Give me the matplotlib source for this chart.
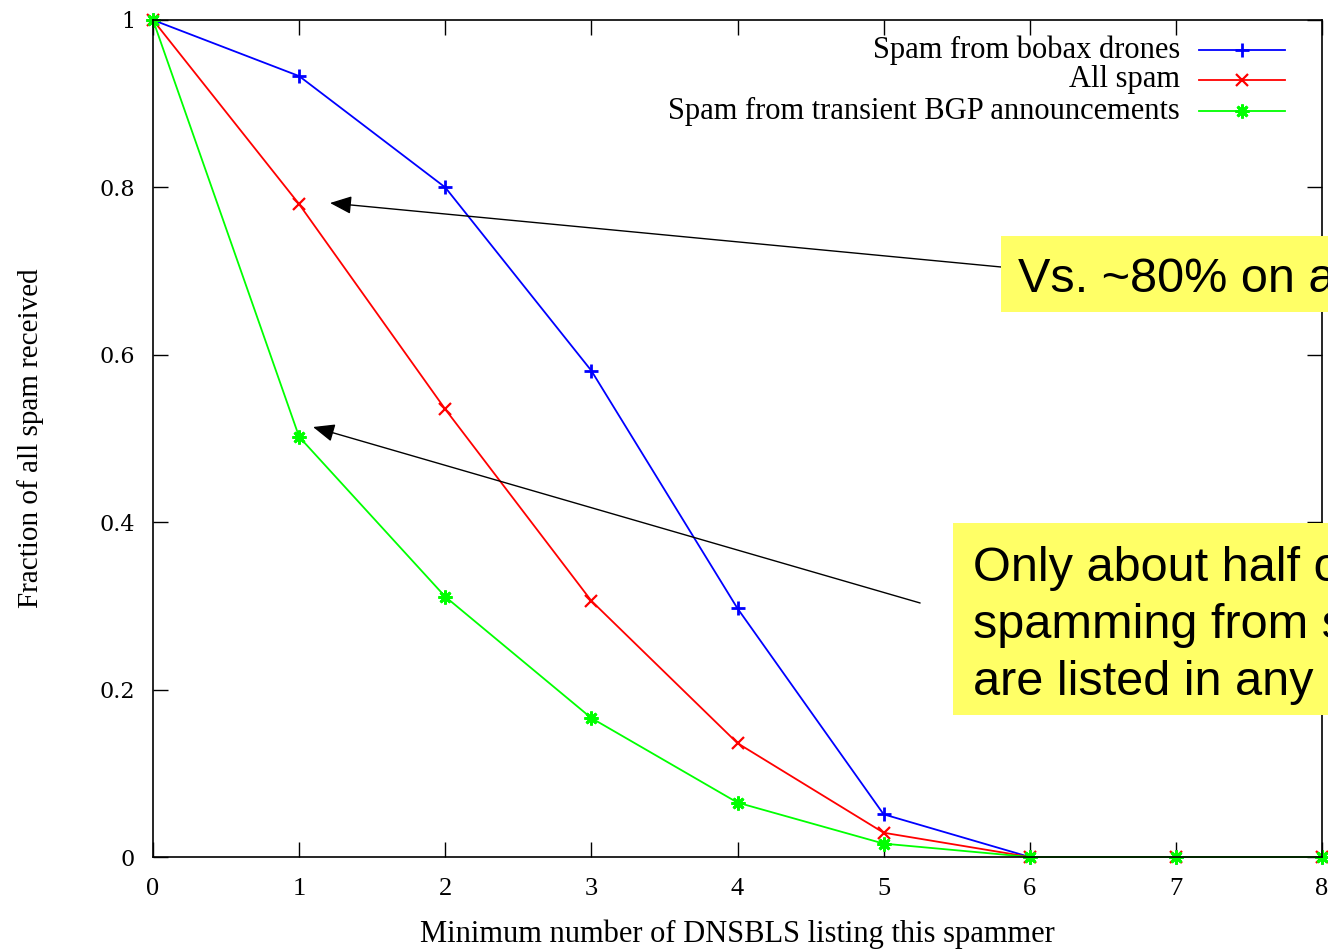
import matplotlib
matplotlib.use("Agg")
import matplotlib.pyplot as plt
from matplotlib.patches import Rectangle
from matplotlib.lines import Line2D

# ---- data ----
x_vals = [0, 1, 2, 3, 4, 5, 6, 7, 8]
bobax = [1.0, 0.933, 0.800, 0.581, 0.297, 0.051, 0.0, 0.0, 0.0]
all_spam = [1.0, 0.780, 0.535, 0.306, 0.136, 0.029, 0.0, 0.0, 0.0]
transient = [1.0, 0.502, 0.311, 0.166, 0.065, 0.016, 0.0, 0.0, 0.0]
labels = ["Spam from bobax drones", "All spam", "Spam from transient BGP announcements"]
xticks = list(range(0, 9))
yticks = [0, 0.2, 0.4, 0.6, 0.8, 1]
ytick_labels = ["0", "0.2", "0.4", "0.6", "0.8", "1"]
xlabel = "Minimum number of DNSBLS listing this spammer"
ylabel = "Fraction of all spam received"
note1 = ["Vs. ~80% on average"]
note2 = ["Only about half of the IPs", "spamming from short-lived BGP", "are listed in any blacklist"]

W, H = 1328, 949
fig = plt.figure(figsize=(W / 100, H / 100), dpi=100)
fig.patch.set_facecolor("white")


def fx(px):
    return px / W


def fy(py):
    return 1 - py / H


ax = fig.add_axes([fx(153), fy(857), fx(1322) - fx(153), fy(20) - fy(857)])
serif = "Liberation Serif"

star = (8, 2, 0)
styles = [
    dict(color="#0000FF", marker="+", ms=10, mew=2.0),
    dict(color="#FF0000", marker="x", ms=8, mew=1.6),
    dict(color="#00FF00", marker=star, ms=10, mew=2.0),
]
series = [bobax, all_spam, transient]
for vals, st in zip(series, styles):
    ax.plot(x_vals, vals, lw=1.3, clip_on=False, **st)

ax.set_xlim(0, 8)
ax.set_ylim(0, 1)
ax.set_xticks(xticks)
ax.set_xticklabels([str(v) for v in xticks], fontfamily=serif, fontsize=19)
ax.set_yticks(yticks)
ax.set_yticklabels(ytick_labels, fontfamily="DejaVu Serif", fontsize=16)
ax.tick_params(axis="both", direction="in", length=11, width=1, top=True, right=True, colors="black")
ax.tick_params(axis="x", pad=15)
ax.tick_params(axis="y", pad=13)
for s in ax.spines.values():
    s.set_linewidth(1.2)
    s.set_color("black")

ax.set_xlabel(xlabel, fontfamily=serif, fontsize=22, labelpad=14)
ax.set_ylabel(ylabel, fontfamily=serif, fontsize=21, labelpad=40)

# ---- legend (gnuplot style: text right, sample on the right) ----
row_y = [50, 80, 111]
for lab, st, yy in zip(labels, styles, row_y):
    fig.text(fx(1180), fy(yy), lab, fontfamily=serif, fontsize=22, ha="right", va="center")
    fig.add_artist(Line2D([fx(1199), fx(1285)], [fy(yy), fy(yy)], transform=fig.transFigure,
                          color=st["color"], lw=1.3))
    fig.add_artist(Line2D([fx(1242)], [fy(yy)], transform=fig.transFigure, linestyle="none", **st))

# ---- annotations ----
arrow = dict(arrowstyle="-|>,head_length=0.6,head_width=0.25", color="black", lw=1.0,
             mutation_scale=22, shrinkA=0, shrinkB=0)
ax.annotate("", xy=((330 - 153) / 146.1, (857 - 203) / 837), xytext=((1001 - 153) / 146.1, (857 - 267) / 837),
            arrowprops=arrow, annotation_clip=False)
ax.annotate("", xy=((313 - 153) / 146.1, (857 - 427) / 837), xytext=((920 - 153) / 146.1, (857 - 603) / 837),
            arrowprops=arrow, annotation_clip=False)

yellow = "#FFFF66"
fig.patches.append(Rectangle((fx(1001), fy(312)), fx(1500) - fx(1001), fy(236) - fy(312),
                             transform=fig.transFigure, facecolor=yellow, edgecolor="none", zorder=5))
fig.patches.append(Rectangle((fx(953), fy(715)), fx(1500) - fx(953), fy(523) - fy(715),
                             transform=fig.transFigure, facecolor=yellow, edgecolor="none", zorder=5))
sans = "Liberation Sans"
fig.text(fx(1018), fy(292), note1[0], fontfamily=sans, fontsize=35, va="baseline", ha="left", zorder=6)
for i, line in enumerate(note2):
    fig.text(fx(973), fy(581 + 57 * i), line, fontfamily=sans, fontsize=35, va="baseline", ha="left", zorder=6)

fig.savefig("out.png", dpi=100)
